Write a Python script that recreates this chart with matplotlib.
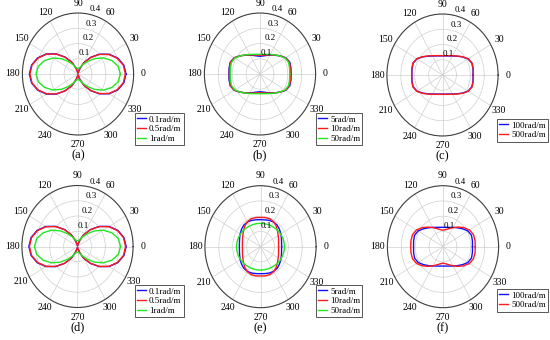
import numpy as np
import matplotlib
matplotlib.use("Agg")
import matplotlib.pyplot as plt

plt.rcParams["font.family"] = ["Liberation Serif", "DejaVu Serif"]

# polar samples every 10 degrees (0..350)
angles_deg = np.arange(0, 360, 10)

# (a)
a_blue = [0.345, 0.335, 0.305, 0.259, 0.202, 0.143, 0.086, 0.040, 0.012, 0.006,
          0.012, 0.041, 0.088, 0.145, 0.205, 0.263, 0.309, 0.339, 0.350,
          0.339, 0.309, 0.263, 0.205, 0.145, 0.088, 0.041, 0.012, 0.006,
          0.012, 0.040, 0.086, 0.143, 0.202, 0.259, 0.305, 0.335]
a_red = [0.341, 0.331, 0.301, 0.256, 0.200, 0.141, 0.085, 0.040, 0.011, 0.005,
         0.011, 0.040, 0.087, 0.143, 0.203, 0.260, 0.306, 0.336, 0.346,
         0.336, 0.306, 0.260, 0.203, 0.143, 0.087, 0.040, 0.011, 0.005,
         0.011, 0.040, 0.085, 0.141, 0.200, 0.256, 0.301, 0.331]
a_green = [0.305, 0.293, 0.259, 0.211, 0.157, 0.108, 0.071, 0.048, 0.038, 0.037,
           0.038, 0.048, 0.070, 0.107, 0.156, 0.209, 0.257, 0.290, 0.302,
           0.290, 0.257, 0.209, 0.156, 0.107, 0.070, 0.048, 0.038, 0.037,
           0.038, 0.048, 0.071, 0.108, 0.157, 0.211, 0.259, 0.293]

# (b)
b_blue = [0.224, 0.226, 0.228, 0.214, 0.186, 0.161, 0.143, 0.129, 0.120, 0.116,
          0.120, 0.129, 0.143, 0.161, 0.186, 0.214, 0.228, 0.226, 0.224,
          0.226, 0.228, 0.214, 0.186, 0.161, 0.143, 0.129, 0.120, 0.116,
          0.120, 0.129, 0.143, 0.161, 0.186, 0.214, 0.228, 0.226]
b_red = [0.221, 0.223, 0.225, 0.212, 0.185, 0.162, 0.145, 0.133, 0.126, 0.123,
         0.126, 0.133, 0.145, 0.162, 0.185, 0.212, 0.225, 0.223, 0.221,
         0.223, 0.225, 0.212, 0.185, 0.162, 0.145, 0.133, 0.126, 0.123,
         0.126, 0.133, 0.145, 0.162, 0.185, 0.212, 0.225, 0.223]
b_green = [0.214, 0.216, 0.219, 0.209, 0.185, 0.164, 0.148, 0.137, 0.131, 0.129,
           0.131, 0.137, 0.148, 0.164, 0.185, 0.209, 0.219, 0.216, 0.214,
           0.216, 0.219, 0.209, 0.185, 0.164, 0.148, 0.137, 0.131, 0.129,
           0.131, 0.137, 0.148, 0.164, 0.185, 0.209, 0.219, 0.216]

# (c)
c_blue = [0.220, 0.223, 0.225, 0.212, 0.185, 0.161, 0.144, 0.133, 0.127, 0.125,
          0.127, 0.133, 0.144, 0.161, 0.185, 0.212, 0.225, 0.223, 0.220,
          0.223, 0.225, 0.212, 0.185, 0.161, 0.144, 0.133, 0.127, 0.125,
          0.127, 0.133, 0.144, 0.161, 0.185, 0.212, 0.225, 0.223]
c_red = [0.222, 0.225, 0.227, 0.214, 0.187, 0.163, 0.146, 0.135, 0.129, 0.127,
         0.129, 0.135, 0.146, 0.163, 0.187, 0.214, 0.227, 0.225, 0.222,
         0.225, 0.227, 0.214, 0.187, 0.163, 0.146, 0.135, 0.129, 0.127,
         0.129, 0.135, 0.146, 0.163, 0.187, 0.214, 0.227, 0.225]

# (d)
d_blue = [0.350, 0.339, 0.309, 0.263, 0.205, 0.145, 0.088, 0.041, 0.012, 0.006,
          0.012, 0.041, 0.088, 0.145, 0.205, 0.263, 0.309, 0.339, 0.350,
          0.339, 0.309, 0.263, 0.205, 0.145, 0.088, 0.041, 0.012, 0.006,
          0.012, 0.041, 0.088, 0.145, 0.205, 0.263, 0.309, 0.339]
d_red = [0.346, 0.336, 0.306, 0.260, 0.203, 0.143, 0.087, 0.040, 0.011, 0.005,
         0.011, 0.040, 0.087, 0.143, 0.203, 0.260, 0.306, 0.336, 0.346,
         0.336, 0.306, 0.260, 0.203, 0.143, 0.087, 0.040, 0.011, 0.005,
         0.011, 0.040, 0.087, 0.143, 0.203, 0.260, 0.306, 0.336]
d_green = [0.310, 0.298, 0.263, 0.214, 0.159, 0.109, 0.072, 0.048, 0.039, 0.038,
           0.039, 0.048, 0.072, 0.109, 0.159, 0.214, 0.263, 0.298, 0.310,
           0.298, 0.263, 0.214, 0.159, 0.109, 0.072, 0.048, 0.039, 0.038,
           0.039, 0.048, 0.072, 0.109, 0.159, 0.214, 0.263, 0.298]

# (e)
e_blue = [0.152, 0.154, 0.160, 0.169, 0.178, 0.186, 0.187, 0.184, 0.179, 0.177,
          0.179, 0.184, 0.187, 0.186, 0.178, 0.169, 0.160, 0.154, 0.152,
          0.154, 0.160, 0.169, 0.178, 0.186, 0.187, 0.184, 0.179, 0.177,
          0.179, 0.184, 0.187, 0.186, 0.178, 0.169, 0.160, 0.154]
e_red = [0.130, 0.132, 0.138, 0.147, 0.160, 0.176, 0.189, 0.195, 0.194, 0.192,
         0.194, 0.195, 0.189, 0.176, 0.160, 0.147, 0.138, 0.132, 0.130,
         0.132, 0.138, 0.147, 0.160, 0.176, 0.189, 0.195, 0.194, 0.192,
         0.194, 0.195, 0.189, 0.176, 0.160, 0.147, 0.138, 0.132]
e_green = [0.173, 0.172, 0.170, 0.167, 0.164, 0.160, 0.157, 0.155, 0.154, 0.153,
           0.154, 0.155, 0.157, 0.160, 0.164, 0.167, 0.170, 0.172, 0.173,
           0.172, 0.170, 0.167, 0.164, 0.160, 0.157, 0.155, 0.154, 0.153,
           0.154, 0.155, 0.157, 0.160, 0.164, 0.167, 0.170, 0.172]

# (f)
f_blue = [0.212, 0.215, 0.218, 0.207, 0.183, 0.162, 0.146, 0.135, 0.129, 0.127,
          0.129, 0.135, 0.146, 0.162, 0.183, 0.207, 0.218, 0.215, 0.212,
          0.215, 0.218, 0.207, 0.183, 0.162, 0.146, 0.135, 0.129, 0.127,
          0.129, 0.135, 0.146, 0.162, 0.183, 0.207, 0.218, 0.215]
f_red = [0.232, 0.234, 0.233, 0.220, 0.195, 0.168, 0.145, 0.126, 0.114, 0.108,
         0.114, 0.126, 0.145, 0.168, 0.195, 0.220, 0.233, 0.234, 0.232,
         0.234, 0.233, 0.220, 0.195, 0.168, 0.145, 0.126, 0.114, 0.108,
         0.114, 0.126, 0.145, 0.168, 0.195, 0.220, 0.233, 0.234]

labels_low = ["0.1rad/m", "0.5rad/m", "1rad/m"]
labels_mid = ["5rad/m", "10rad/m", "50rad/m"]
labels_high = ["100rad/m", "500rad/m"]

r_ticks = [0.1, 0.2, 0.3, 0.4]
theta_ticks = list(range(0, 360, 30))

BLUE, RED, GREEN = "#1010ff", "#ff1a1a", "#22e622"

W, H = 550, 340
RX, RY = 55.6, 61  # px half-width / half-height of the (slightly stretched) polar disc


def draw_panel(fig, cx, cy, series, labels, colors, caption, leg_xy):
    rect = [(cx - RX) / W, 1 - (cy + RY) / H, 2 * RX / W, 2 * RY / H]
    ax = fig.add_axes(rect, projection="polar")
    ax.set_aspect("auto")
    th = np.deg2rad(np.append(angles_deg, 360))
    for vals, lab, col in zip(series, labels, colors):
        r = np.append(vals, vals[0])
        ax.plot(th, r, color=col, lw=1.0, label=lab)
    ax.set_ylim(0, 0.4)
    ax.set_rgrids(r_ticks, labels=[])
    ax.set_thetagrids(theta_ticks, labels=[str(t) for t in theta_ticks], fontsize=7)
    ax.tick_params(axis="x", pad=-3.5)
    ax.grid(True, color="#cfcfcf", lw=0.5)
    ax.spines["polar"].set_color("#404040")
    ax.spines["polar"].set_linewidth(0.8)
    for rv in r_ticks:
        ax.annotate(f"{rv:.1f}", xy=(np.deg2rad(74), rv), xytext=(1.5, 4.5),
                    textcoords="offset points", ha="center", va="center",
                    fontsize=6.5)
    ax.text(0.5, -0.165, caption, transform=ax.transAxes, ha="center",
            va="center", fontsize=9)
    leg = ax.legend(loc="upper left", bbox_to_anchor=(leg_xy[0] / W, 1 - leg_xy[1] / H),
                    bbox_transform=fig.transFigure, fontsize=6.5, handlelength=1.0,
                    handletextpad=0.3, labelspacing=0.15, borderpad=0.25,
                    borderaxespad=0, fancybox=False, framealpha=1)
    leg.get_frame().set_edgecolor("#555555")
    leg.get_frame().set_linewidth(0.7)
    return ax


fig = plt.figure(figsize=(5.5, 3.4), dpi=100)

draw_panel(fig, 78, 74, [a_blue, a_red, a_green], labels_low, [BLUE, RED, GREEN], "(a)", (135, 113))
draw_panel(fig, 260, 74, [b_blue, b_red, b_green], labels_mid, [BLUE, RED, GREEN], "(b)", (316, 113))
draw_panel(fig, 442.5, 75, [c_blue, c_red], labels_high, [BLUE, RED], "(c)", (497, 119))
draw_panel(fig, 77.5, 246.5, [d_blue, d_red, d_green], labels_low, [BLUE, RED, GREEN], "(d)", (135, 285))
draw_panel(fig, 260.5, 246.7, [e_blue, e_red, e_green], labels_mid, [BLUE, RED, GREEN], "(e)", (316, 285))
draw_panel(fig, 443, 246.7, [f_blue, f_red], labels_high, [BLUE, RED], "(f)", (497, 289))

fig.savefig("out.png", dpi=100)
